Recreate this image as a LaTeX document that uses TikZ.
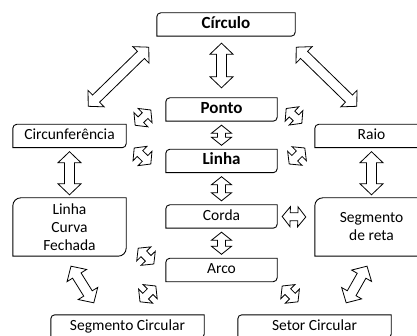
\documentclass[tikz,border=0pt]{standalone}
\usepackage{fontspec}
\setmainfont{Carlito}
\usetikzlibrary{calc}

\tikzset{
  blk/.style n args={3}{to path={coordinate (ba) (\tikztotarget) coordinate (bb) (ba)
    -- ($(ba)!#1!(bb)!#2!90:(bb)$) -- ($(ba)!#1!(bb)!#3!90:(bb)$)
    -- ($(bb)!#1!(ba)!#3!-90:(ba)$) -- ($(bb)!#1!(ba)!#2!-90:(ba)$)
    -- (bb)
    -- ($(bb)!#1!(ba)!#2!90:(ba)$) -- ($(bb)!#1!(ba)!#3!90:(ba)$)
    -- ($(ba)!#1!(bb)!#3!-90:(bb)$) -- ($(ba)!#1!(bb)!#2!-90:(bb)$)
    -- cycle}},
}

\begin{document}
\begin{tikzpicture}[x=1pt, y=-1pt,
  main/.style = {minimum width=111pt, minimum height=23pt, inner sep=0pt,
    font=\fontsize{15.5}{18}\selectfont, text height=10.5pt, text depth=3pt},
  head/.style = {main, font=\fontsize{17}{19}\selectfont\bfseries},
  tall/.style = {minimum width=113pt, minimum height=58pt, inner sep=0pt,
    font=\fontsize{15.5}{18}\selectfont, align=center},
  big/.style = {draw, fill=white, line width=0.8pt, line join=miter, blk={11pt}{11.5pt}{5pt}},
  small/.style = {draw, fill=white, line width=0.8pt, line join=miter, blk={8pt}{10pt}{4pt}}]
\useasboundingbox (0,0) rectangle (417,336);
\clip (0,0) rectangle (417,336);

\node[head, minimum width=138pt] (1) at (226,24.5) {Círculo};
\node[head] (2) at (221.5,109.5) {Ponto};
\node[head] (3) at (221.5,161) {Linha};
\node[main] (4) at (221.5,216.5) {Corda};
\node[main] (5) at (221.5,270) {Arco};
\node[main, minimum width=113pt] (6) at (69.5,136) {Circunferência};
\node[main, minimum width=113pt] (7) at (371.5,136) {Raio};
\node[tall] (8) at (69.5,227) {Linha\\Curva\\Fechada};
\node[tall] (9) at (371.5,227) {Segmento\\de reta};
\node[main, minimum width=153pt] (10) at (127.5,326.5) {Segmento Circular};
\node[main, minimum width=153pt] (11) at (314.5,326.5) {Setor Circular};

% box outlines
\foreach \n/\r in {1/4,2/4,3/4,4/4,5/4,6/4,7/4,8/8,9/8,10/4,11/4}
  \draw[line width=0.9pt] (\n.south west) -- ([yshift=-\r pt]\n.north west)
    arc[start angle=180, end angle=90, radius=\r pt] -- (\n.north east)
    -- ([yshift=\r pt]\n.south east) arc[start angle=0, end angle=-90, radius=\r pt] -- cycle;

\draw[big] ($(1.south)+(-4.5,7)$) to ($(2.north)+(0,-10)$);
\draw[big] ($(1.south west)+(-8,11)$) to ($(6.north east)+(-38,-18)$);
\draw[big] ($(1.south east)+(1,11)$) to ($(7.north west)+(42,-18)$);
\draw[big] ($(6.south)+(0,4)$) to ($(8.north)+(0,-3)$);
\draw[big] ($(7.south)+(0,4)$) to ($(9.north)+(0,-3)$);
\draw[big] ($(8.south)+(1.5,10)$) to ($(10.north west)+(43,-12)$);
\draw[big] ($(9.south)+(-4.5,10)$) to ($(11.north east)+(-45,-12)$);

\draw[small] ($(2.south)+(0,4)$) to ($(3.north)+(0,-4)$);
\draw[small] ($(3.south)+(0,4)$) to ($(4.north)+(0,-4)$);
\draw[small] ($(4.south)+(0,4)$) to ($(5.north)+(0,-4)$);
\draw[small] ($(4.east)+(5,0)$) to ($(9.west)+(-9,-10)$);
\draw[small] ($(6.north east)+(9,1)$) to ($(2.west)+(-15,0.5)$);
\draw[small] ($(6.east)+(8,12)$) to ($(3.west)+(-15,3)$);
\draw[small] ($(2.east)+(9,-1)$) to ($(7.north west)+(-13,-1)$);
\draw[small] ($(3.east)+(12,3)$) to ($(7.west)+(-10,12)$);
\draw[small] ($(8.south east)+(12,-8)$) to ($(5.west)+(-12,-6)$);
\draw[small] ($(5.west)+(-10,16)$) to ($(10.north)+(12.5,-13)$);
\draw[small] ($(5.east)+(5,16)$) to ($(11.north)+(-16.5,-13)$);
\end{tikzpicture}
\end{document}
